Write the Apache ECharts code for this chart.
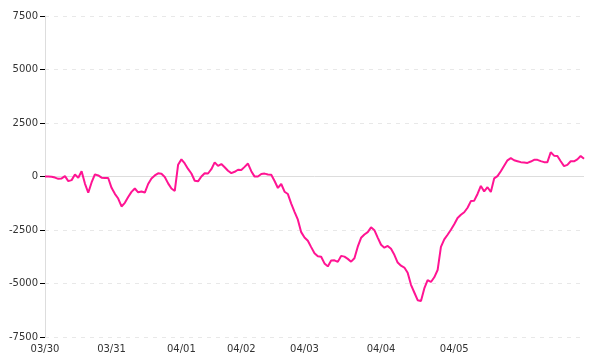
<!DOCTYPE html>
<html>
<head>
<meta charset="utf-8">
<script src="https://cdn.jsdelivr.net/npm/echarts@6/dist/echarts.min.js"></script>
<style>
html,body{margin:0;padding:0;background:#fff;}
#chart{width:600px;height:360px;}
</style>
</head>
<body>
<div id="chart"></div>
<script>
// Day labels and how many samples fall into each day
var dayLabels = ['03/30', '03/31', '04/01', '04/02', '04/03', '04/04', '04/05'];
var dayCounts = [20, 21, 18, 19, 23, 22, 40];

// Series values
var values = [
  0, -2, -8, -50, -110, -90, 15, -215, -170, 90,
  -60, 245, -330, -760, -280, 100, 50, -55, -70, -70,
  -530, -810, -1030, -1400, -1230, -960, -720, -560, -740, -700,
  -750, -350, -90, 50, 150, 130, -20, -320, -560, -675,
  545, 800, 610, 355, 140, -200, -225, 0, 155, 140,
  340, 660, 495, 580, 430, 270, 160, 220, 315, 305,
  450, 605, 250, -5, 0, 115, 135, 95, 80, -210,
  -535, -350, -710, -820, -1265, -1650, -2020, -2600, -2850, -3000,
  -3300, -3590, -3730, -3750, -4060, -4200, -3930, -3915, -3990, -3710,
  -3745, -3850, -3980, -3820, -3280, -2865, -2710, -2600, -2375, -2510,
  -2855, -3190, -3325, -3245, -3380, -3660, -4020, -4170, -4255, -4500,
  -5060, -5420, -5780, -5820, -5230, -4840, -4930, -4710, -4370, -3290,
  -2940, -2720, -2490, -2230, -1935, -1790, -1670, -1460, -1150, -1130,
  -815, -440, -700, -500, -725, -90, 15, 245, 505, 755,
  860, 760, 715, 670, 655, 635, 700, 780, 780, 720,
  670, 670, 1135, 975, 955, 710, 485, 545, 710, 710,
  800, 960, 825
];

// Y axis ticks
var yMin = -7500, yMax = 7500, yStep = 2500;

// Build categories: one per sample, labelled by day
var categories = [];
var dayStart = {};
for (var d = 0; d < dayLabels.length; d++) {
  dayStart[categories.length] = true;
  for (var k = 0; k < dayCounts[d]; k++) {
    categories.push(dayLabels[d] + ' #' + (k + 1));
  }
}

var chart = echarts.init(document.getElementById('chart'), null, {renderer: 'canvas'});
chart.setOption({
  animation: false,
  backgroundColor: '#ffffff',
  grid: {left: 45, right: 16, top: 16, bottom: 23, containLabel: false},
  xAxis: {
    type: 'category',
    data: categories,
    boundaryGap: false,
    axisLine: {show: false},
    axisTick: {show: false},
    splitLine: {show: false},
    axisLabel: {
      interval: function (idx) { return !!dayStart[idx]; },
      formatter: function (v) { return v.split(' ')[0]; },
      color: '#333',
      fontFamily: 'DejaVu Sans',
      fontSize: 10,
      margin: 7,
      hideOverlap: false
    }
  },
  yAxis: {
    type: 'value',
    min: yMin,
    max: yMax,
    interval: yStep,
    axisLine: {show: true, lineStyle: {color: '#dddddd', width: 1}},
    axisTick: {show: true, length: 5, lineStyle: {color: '#000000', width: 1}},
    splitLine: {show: true, lineStyle: {color: '#e8e8e8', type: [4, 5], width: 1}},
    axisLabel: {
      color: '#333',
      fontFamily: 'DejaVu Sans',
      fontSize: 10,
      margin: 7,
      formatter: function (v) { return String(v); }
    }
  },
  series: [{
    type: 'line',
    data: values,
    symbol: 'none',
    lineStyle: {color: '#ff1493', width: 2},
    itemStyle: {color: '#ff1493'},
    markLine: {
      silent: true,
      symbol: 'none',
      label: {show: false},
      lineStyle: {color: '#dddddd', type: 'solid', width: 1},
      data: [{yAxis: 0}],
      z: 1
    }
  }]
});
</script>
</body>
</html>
